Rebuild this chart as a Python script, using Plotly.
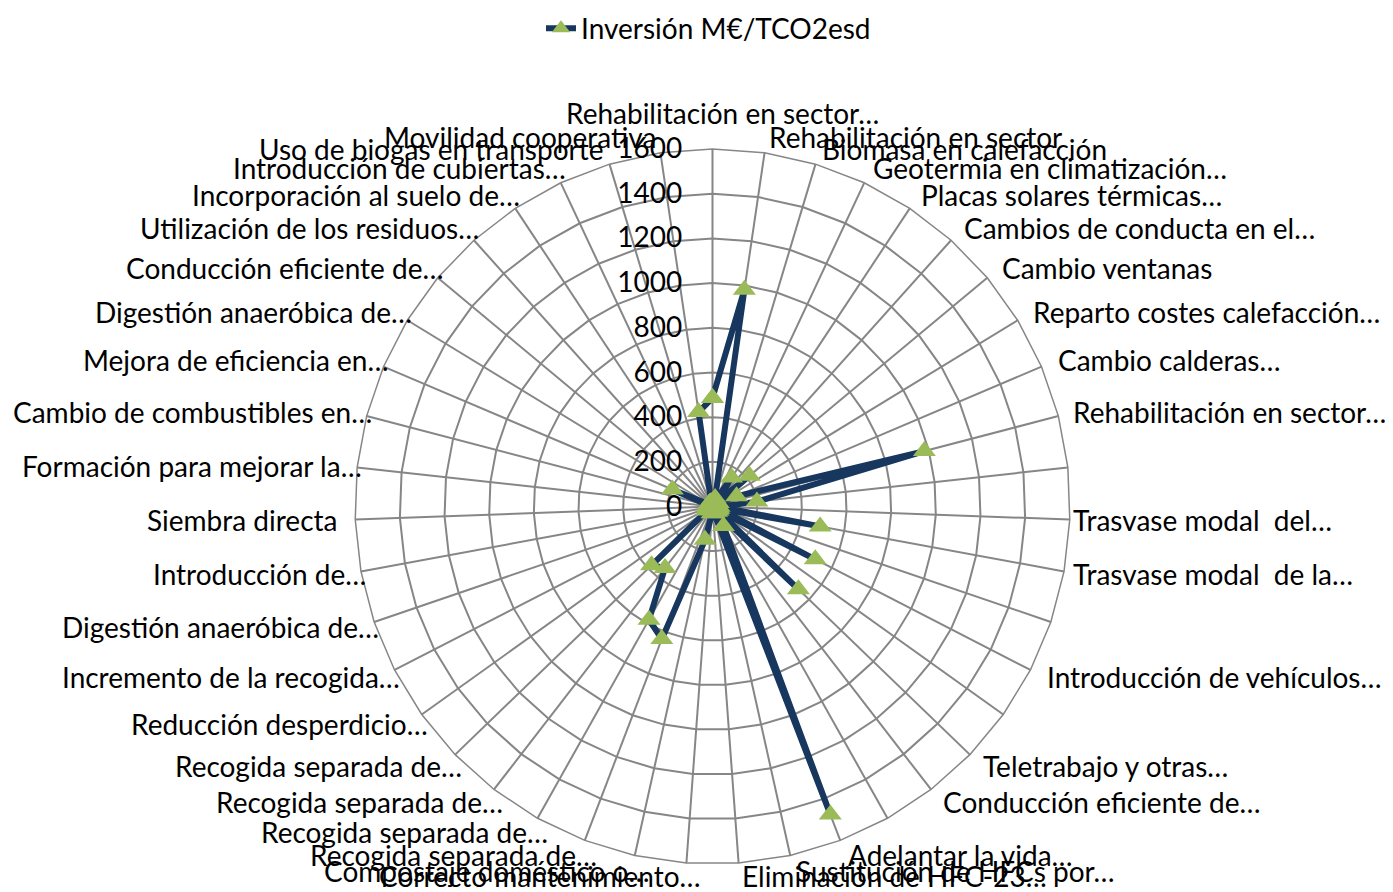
import math
import plotly.graph_objects as go

ZW = "\u200b"

labels = [
    "Rehabilitación en sector…",
    "Rehabilitación en sector",
    "Biomasa en calefacción",
    "Geotermia en climatización…",
    "Placas solares térmicas…",
    "Cambios de conducta en el…",
    "Cambio ventanas",
    "Reparto costes calefacción…",
    "Cambio calderas…",
    "Rehabilitación en sector…",
    "",
    "Trasvase modal  del…",
    "Trasvase modal  de la…",
    "",
    "Introducción de vehículos…",
    "",
    "Teletrabajo y otras…",
    "Conducción eficiente de…",
    "",
    "Adelantar la vida…",
    "Sustitución de HFCs por…",
    "Eliminación de HFC-23…",
    "Correcto mantenimiento…",
    "Compostaje doméstico o…",
    "Recogida separada de…",
    "Recogida separada de…",
    "Recogida separada de…",
    "Recogida separada de…",
    "Reducción desperdicio…",
    "Incremento de la recogida…",
    "Digestión anaeróbica de…",
    "Introducción de…",
    "Siembra directa",
    "Formación para mejorar la…",
    "Cambio de combustibles en…",
    "Mejora de eficiencia en…",
    "Digestión anaeróbica de…",
    "Conducción eficiente de…",
    "Utilización de los residuos…",
    "Incorporación al suelo de…",
    "Introducción de cubiertas…",
    "Uso de biogas en transporte",
    "Movilidad cooperativa",
]

inversion = [
    486, 980, 40, 30, 155, 30, 215, 30, 117, 980,
    200, 30, 490, 30, 517, 30, 534, 30, 100, 1476,
    30, 30, 30, 153, 635, 581, 348, 379, 30, 20,
    20, 20, 20, 20, 20, 195, 20, 20, 20, 20,
    20, 20, 427,
]

series_name = "Inversión M€/TCO2esd"
radial_ticks = [0, 200, 400, 600, 800, 1000, 1200, 1400, 1600]

# unique category keys (duplicated / blank labels made distinct with zero-width spaces)
categories = []
for lab in labels:
    key = lab if lab else ZW
    while key in categories:
        key += ZW
    categories.append(key)

FONT = "Lato, 'Open Sans', sans-serif"
GRID = "#868686"
FS = 28

fig = go.Figure()
fig.add_trace(go.Scatterpolar(
    r=inversion + inversion[:1],
    theta=categories + categories[:1],
    mode="lines+markers",
    name=series_name,
    line=dict(color="#17375E", width=6),
    marker=dict(symbol="triangle-up", size=20, color="#9BBB59"),
))

W, H = 1393, 892
PAGE = 8  # default page margin of the html body
CX, CY, R = 712.5 - PAGE, 506.5 - PAGE, 357.5
fig.update_layout(
    width=W, height=H,
    margin=dict(l=0, r=0, t=0, b=0, autoexpand=False),
    paper_bgcolor="white",
    font=dict(family=FONT, size=FS, color="black"),
    showlegend=True,
    legend=dict(orientation="h", x=0.5 + 4 / W, xanchor="center", y=1.005, yanchor="top",
                font=dict(size=FS), bgcolor="rgba(0,0,0,0)"),
    polar=dict(
        domain=dict(x=[(CX - R) / W, (CX + R) / W], y=[1 - (CY + R) / H, 1 - (CY - R) / H]),
        bgcolor="white",
        gridshape="linear",
        angularaxis=dict(
            categoryarray=categories, categoryorder="array",
            direction="clockwise", rotation=90,
            showline=True, linecolor=GRID, linewidth=1.5,
            gridcolor=GRID, gridwidth=1.5,
            ticks="", showticklabels=False,
        ),
        radialaxis=dict(
            range=[0, 1600], tickvals=radial_ticks, angle=90, tickangle=90,
            showline=False, gridcolor=GRID, gridwidth=1.5,
            side="counterclockwise", ticks="outside", ticklen=20,
            tickcolor="rgba(0,0,0,0)", tickfont=dict(size=FS),
        ),
    ),
)

# category labels placed the way the spreadsheet places them (just outside each spoke end)
n = len(labels)
for i, lab in enumerate(labels):
    if not lab:
        continue
    th = math.radians(i * 360.0 / n)
    s, c = math.sin(th), math.cos(th)
    off = 16
    sx = CX + R * s
    px = CX + (R + off) * s
    py = CY - (R + off) * c
    if abs(s) < 0.02:
        xa = "center"
        px = sx + 10
        py = CY - R - 36
    elif s > 0:
        xa = "left"
        px = min(px, W - PAGE - 322)
    else:
        xa = "right"
        if lab.endswith("…"):
            px = sx + 7 + 10 * max(0.0, -c) ** 4
    py = min(py, H - PAGE - 16)
    fig.add_annotation(
        x=px / W, y=1 - py / H, xref="paper", yref="paper",
        text=lab, showarrow=False, xanchor=xa, yanchor="middle",
        font=dict(family=FONT, size=FS, color="black"),
    )

fig.write_html("out.html")
